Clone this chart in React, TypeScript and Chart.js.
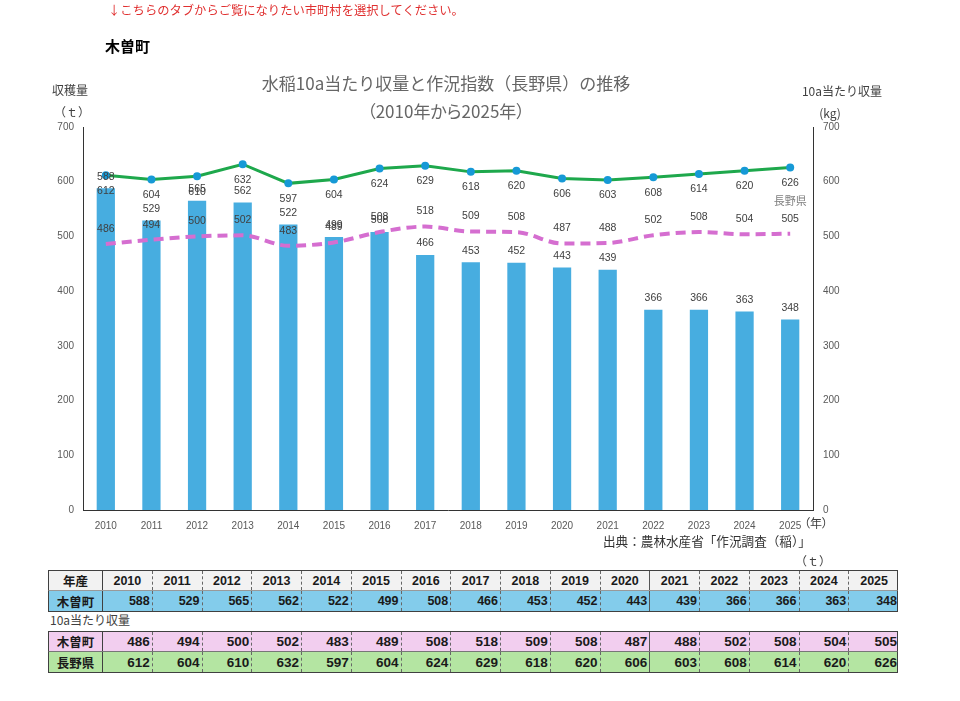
import React, { useEffect, useRef } from "react";
import { Chart, registerables } from "chart.js";

Chart.register(...registerables);

// ---- data ----
const years = ["2010", "2011", "2012", "2013", "2014", "2015", "2016", "2017", "2018", "2019", "2020", "2021", "2022", "2023", "2024", "2025"];
const harvestTons = [588, 529, 565, 562, 522, 499, 508, 466, 453, 452, 443, 439, 366, 366, 363, 348];
const yieldKisoKg = [486, 494, 500, 502, 483, 489, 508, 518, 509, 508, 487, 488, 502, 508, 504, 505];
const yieldNaganoKg = [612, 604, 610, 632, 597, 604, 624, 629, 618, 620, 606, 603, 608, 614, 620, 626];
const axisMin = 0;
const axisMax = 700;
const axisStep = 100;

// ---- styles ----
const BAR = "#47ADE0";
const GREEN = "#1EA84C";
const DOT = "#1699D6";
const PINK = "#D56ED0";
const AXIS = "#333333";
const TICK = "#595959";
const LABEL = "#404040";
const NUM_FONT = "'Liberation Sans', Arial, sans-serif";
const JP_FONT = "'Noto Sans CJK JP', 'Noto Sans', sans-serif";

// value labels drawn next to each bar / point
const valueLabels = {
  id: "valueLabels",
  afterDatasetsDraw(chart: any) {
    const ctx = chart.ctx;
    ctx.save();
    ctx.font = `10.5px ${NUM_FONT}`;
    ctx.fillStyle = LABEL;
    ctx.textAlign = "center";
    ctx.textBaseline = "middle";
    chart.data.datasets.forEach((ds: any, i: number) => {
      const meta = chart.getDatasetMeta(i);
      meta.data.forEach((el: any, j: number) => {
        const v = ds.data[j];
        ctx.fillText(String(v), el.x, el.y + ds.labelOffset);
      });
      if (ds.seriesTag) {
        const last = meta.data[meta.data.length - 1];
        ctx.save();
        ctx.font = `11px ${JP_FONT}`;
        ctx.fillStyle = "#7F7F7F";
        ctx.fillText(ds.seriesTag, last.x, last.y + ds.labelOffset + 18);
        ctx.restore();
      }
    });
    ctx.restore();
  },
};

type TxtProps = {
  x: number;
  y: number;
  align?: "left" | "center" | "right";
  size: number;
  color?: string;
  weight?: number | string;
  family?: string;
  palt?: boolean;
  children: React.ReactNode;
};

function Txt({ x, y, align = "left", size, color = LABEL, weight = 400, family = JP_FONT, palt = false, children }: TxtProps) {
  const tx = align === "left" ? "0" : align === "center" ? "-50%" : "-100%";
  return (
    <div
      style={{
        position: "absolute",
        left: x,
        top: y,
        transform: `translate(${tx}, -50%)`,
        fontSize: size,
        lineHeight: 1,
        color,
        fontWeight: weight as any,
        fontFamily: family,
        whiteSpace: "nowrap",
        fontFeatureSettings: palt ? "'palt' 1" : "normal",
      }}
    >
      {children}
    </div>
  );
}

const TABLE_LEFT = 48;
const FIRST_COL = 54;
const COL = 49.75;

type RowProps = {
  top: number;
  height: number;
  label: string;
  cells: (string | number)[];
  bg: string;
  header?: boolean;
  numSize: number;
  numWeight: number;
  borderTop?: string;
  borderBottom?: string;
};

function Row({ top, height, label, cells, bg, header, numSize, numWeight, borderTop, borderBottom }: RowProps) {
  return (
    <div
      style={{
        position: "absolute",
        left: TABLE_LEFT,
        top,
        height,
        width: FIRST_COL + COL * cells.length,
        display: "flex",
        background: bg,
        borderLeft: "1px solid #404040",
        borderRight: "1px solid #404040",
        borderTop,
        borderBottom,
        boxSizing: "border-box",
      }}
    >
      <div
        style={{
          width: FIRST_COL - 1,
          flex: "none",
          borderRight: "1px solid #404040",
          display: "flex",
          alignItems: "center",
          justifyContent: "center",
          fontFamily: JP_FONT,
          fontSize: 12.5,
          fontWeight: 700,
          color: "#1a1a1a",
        }}
      >
        {label}
      </div>
      {cells.map((c, k) => (
        <div
          key={k}
          style={{
            width: COL,
            flex: "none",
            boxSizing: "border-box",
            borderRight:
              k === cells.length - 1 ? "none" : k === 10 ? "1px solid #555" : "1px dashed #666",
            display: "flex",
            alignItems: "center",
            justifyContent: header ? "center" : "flex-end",
            paddingRight: header ? 0 : 2,
            fontFamily: NUM_FONT,
            fontSize: numSize,
            fontWeight: numWeight,
            color: "#1a1a1a",
          }}
        >
          {c}
        </div>
      ))}
    </div>
  );
}

export default function App() {
  const ref = useRef<HTMLCanvasElement>(null);

  useEffect(() => {
    const tickFont = { size: 10, family: NUM_FONT };
    const chart = new Chart(ref.current as HTMLCanvasElement, {
      type: "bar",
      data: {
        labels: years,
        datasets: [
          {
            type: "line",
            label: "長野県",
            data: yieldNaganoKg,
            yAxisID: "y1",
            borderColor: GREEN,
            borderWidth: 3,
            pointRadius: 4,
            pointBackgroundColor: DOT,
            pointBorderWidth: 0,
            tension: 0,
            order: 1,
            labelOffset: 15.5,
            seriesTag: "長野県",
          } as any,
          {
            type: "line",
            label: "木曽町（10a当たり収量）",
            data: yieldKisoKg,
            yAxisID: "y1",
            borderColor: PINK,
            borderWidth: 4,
            borderDash: [10, 6],
            pointRadius: 0,
            cubicInterpolationMode: "monotone",
            order: 2,
            labelOffset: -15,
          } as any,
          {
            type: "bar",
            label: "木曽町（収穫量）",
            data: harvestTons,
            yAxisID: "y",
            backgroundColor: BAR,
            barPercentage: 0.4,
            categoryPercentage: 1,
            order: 3,
            labelOffset: -11.5,
          } as any,
        ],
      },
      options: {
        animation: false,
        responsive: false,
        devicePixelRatio: 1,
        layout: { padding: { top: 127, left: 0, right: 0, bottom: 0 } },
        plugins: {
          legend: { display: false },
          tooltip: { enabled: false },
          title: { display: false },
        },
        scales: {
          x: {
            grid: { display: false, drawTicks: false },
            border: { display: true, color: AXIS, width: 1 },
            ticks: { color: TICK, font: tickFont, padding: 10, maxRotation: 0, autoSkip: false },
            afterFit(s: any) {
              s.height = 50;
            },
          },
          y: {
            position: "left",
            min: axisMin,
            max: axisMax,
            grid: { display: false, drawTicks: false },
            border: { display: true, color: AXIS, width: 1 },
            ticks: { stepSize: axisStep, color: TICK, font: tickFont, padding: 9 },
            afterFit(s: any) {
              s.width = 83;
            },
          },
          y1: {
            position: "right",
            min: axisMin,
            max: axisMax,
            grid: { display: false, drawTicks: false },
            border: { display: true, color: AXIS, width: 1 },
            ticks: { stepSize: axisStep, color: TICK, font: tickFont, padding: 10 },
            afterFit(s: any) {
              s.width = 147;
            },
          },
        },
      } as any,
      plugins: [valueLabels],
    });
    return () => chart.destroy();
  }, []);

  return (
    <div
      style={{
        position: "absolute",
        left: 0,
        top: 0,
        width: 960,
        height: 701,
        background: "#ffffff",
        overflow: "hidden",
      }}
    >
      <canvas ref={ref} width={960} height={560} style={{ position: "absolute", left: 0, top: 0, width: 960, height: 560 }} />

      <Txt x={108} y={10} size={12.3} color="#E03030">↓こちらのタブからご覧になりたい市町村を選択してください。</Txt>
      <Txt x={105} y={45} size={15} color="#000" weight={700}>木曽町</Txt>

      <Txt x={446} y={82} size={17} color="#666666" align="center">水稲10a当たり収量と作況指数（長野県）の推移</Txt>
      <Txt x={446} y={110} size={17} color="#666666" align="center" palt>（2010年から2025年）</Txt>

      <Txt x={70} y={90} size={12} align="center">収穫量</Txt>
      <Txt x={72} y={112} size={12} align="center">（ｔ）</Txt>
      <Txt x={842} y={91} size={12} align="center">10a当たり収量</Txt>
      <Txt x={830} y={113} size={12} align="center">(kg)</Txt>

      <Txt x={804} y={523} size={12} palt>（年）</Txt>
      <Txt x={603} y={541} size={12.6} color="#333">出典：農林水産省「作況調査（稲）」</Txt>
      <Txt x={813} y={561} size={12} align="center">（ｔ）</Txt>

      <Row
        top={570}
        height={21}
        label="年産"
        cells={years}
        bg="#F2F2F2"
        header
        numSize={12.5}
        numWeight={700}
        borderTop="1px solid #404040"
        borderBottom="1px solid #999"
      />
      <Row
        top={591}
        height={21}
        label="木曽町"
        cells={harvestTons}
        bg="#83CCEB"
        numSize={12.5}
        numWeight={700}
        borderBottom="1px solid #404040"
      />

      <Txt x={50} y={620} size={12}>10a当たり収量</Txt>

      <Row
        top={631}
        height={21}
        label="木曽町"
        cells={yieldKisoKg}
        bg="#F2CEEF"
        numSize={13.5}
        numWeight={700}
        borderTop="1px solid #404040"
        borderBottom="1px solid #777"
      />
      <Row
        top={652}
        height={21}
        label="長野県"
        cells={yieldNaganoKg}
        bg="#B4E5A2"
        numSize={13.5}
        numWeight={700}
        borderBottom="1px solid #404040"
      />
    </div>
  );
}
